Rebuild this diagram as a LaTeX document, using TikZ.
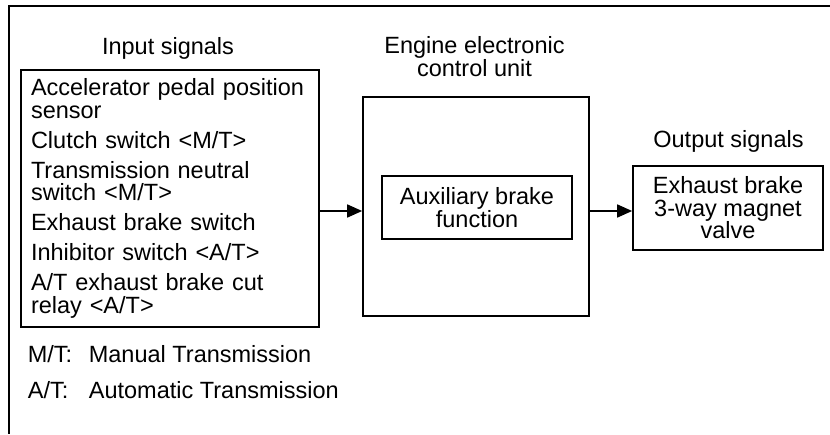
\documentclass[tikz,border=0pt]{standalone}
\usepackage{fontspec}
\setmainfont{Liberation Sans}
\usetikzlibrary{arrows.meta}

\begin{document}
\begin{tikzpicture}[x=1pt, y=-1pt, line width=1.7pt,
    every node/.style={font=\fontsize{23.5}{22.5}\selectfont, inner sep=0pt},
    blk/.style={draw, align=center},
    arr/.style={-{Triangle[length=15pt, width=13pt]}}]
  \useasboundingbox (0,0) rectangle (830,434);
  \draw (830,6) -- (9,6) -- (9,434);
  \node[anchor=base] (inlbl) at (168,54) {Input signals};
  \node[align=center] (eculbl) at (474.5,56.5) {Engine electronic\\control unit};
  \node[anchor=base] (outlbl) at (728.5,147) {Output signals};
  \node[blk, minimum width=298pt, minimum height=257pt, text width=278pt, align=left] (in) at (170,198.5)
    {Accelerator pedal position\\sensor\\[7.5pt]
     Clutch switch <M/T>\\[7.5pt]
     Transmission neutral\\switch <M/T>\\[7.5pt]
     Exhaust brake switch\\[7.5pt]
     Inhibitor switch <A/T>\\[7.5pt]
     A/T exhaust brake cut\\relay <A/T>};
  \node[blk, minimum width=226pt, minimum height=219pt] (ecu) at (476,206.5) {};
  \node[blk, minimum width=190pt, minimum height=63pt] (aux) at (477,207.5) {Auxiliary brake\\function};
  \node[blk, minimum width=190pt, minimum height=84pt] (out) at (728,208) {Exhaust brake\\3-way magnet\\valve};
  \coordinate (lvl) at (0,211);
  \draw[arr] (in.east |- lvl) -- (ecu.west |- lvl);
  \draw[arr] (ecu.east |- lvl) -- (out.west |- lvl);
  \node[anchor=base west] (mt) at (27,362) {\makebox[61pt][l]{M/T:}Manual Transmission};
  \node[anchor=base west] (at) at (27,398) {\makebox[61pt][l]{A/T:}Automatic Transmission};
\end{tikzpicture}
\end{document}
